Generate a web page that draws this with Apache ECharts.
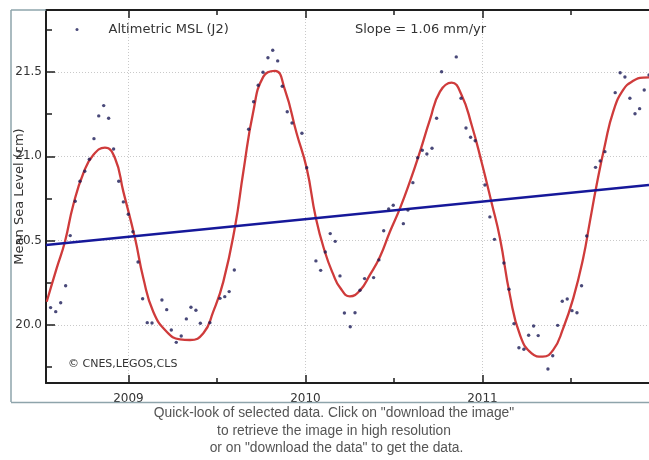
<!DOCTYPE html>
<html>
<head>
<meta charset="utf-8">
<script src="https://cdn.jsdelivr.net/npm/echarts@6/dist/echarts.min.js"></script>
<style>
html,body{margin:0;padding:0;background:#fff;}
#chart{width:649px;height:460px;}
</style>
</head>
<body>
<div id="chart"></div>
<script>
// ---- data ----
const dotYears = [2008.560,2008.589,2008.617,2008.645,2008.671,2008.699,2008.726,2008.753,2008.779,2008.805,2008.832,2008.860,2008.888,2008.916,2008.945,2008.971,2008.999,2009.025,2009.054,2009.080,2009.106,2009.133,2009.189,2009.216,2009.242,2009.270,2009.298,2009.327,2009.353,2009.381,2009.406,2009.460,2009.517,2009.544,2009.569,2009.598,2009.679,2009.707,2009.733,2009.760,2009.788,2009.815,2009.843,2009.869,2009.897,2009.924,2009.980,2010.007,2010.059,2010.086,2010.112,2010.140,2010.168,2010.195,2010.220,2010.253,2010.280,2010.308,2010.334,2010.385,2010.415,2010.442,2010.470,2010.496,2010.553,2010.579,2010.607,2010.634,2010.660,2010.686,2010.715,2010.741,2010.769,2010.852,2010.879,2010.907,2010.933,2010.959,2011.014,2011.042,2011.068,2011.121,2011.150,2011.178,2011.206,2011.234,2011.261,2011.289,2011.315,2011.370,2011.397,2011.425,2011.451,2011.479,2011.506,2011.534,2011.560,2011.589,2011.639,2011.665,2011.692,2011.750,2011.778,2011.805,2011.833,2011.862,2011.888,2011.914,2011.941];
const dotMSL = [20.103,20.079,20.132,20.233,20.530,20.734,20.852,20.912,20.983,21.105,21.240,21.301,21.226,21.044,20.852,20.730,20.657,20.553,20.374,20.156,20.014,20.012,20.148,20.091,19.970,19.897,19.935,20.036,20.105,20.087,20.010,20.014,20.158,20.168,20.198,20.326,21.161,21.324,21.422,21.499,21.585,21.629,21.566,21.416,21.265,21.198,21.137,20.933,20.380,20.324,20.433,20.542,20.496,20.291,20.071,19.990,20.073,20.206,20.275,20.281,20.386,20.559,20.688,20.710,20.601,20.682,20.844,20.992,21.036,21.014,21.048,21.226,21.502,21.590,21.345,21.168,21.113,21.093,20.830,20.641,20.508,20.368,20.212,20.008,19.865,19.856,19.939,19.994,19.937,19.739,19.818,19.998,20.141,20.154,20.085,20.073,20.233,20.528,20.935,20.973,21.028,21.378,21.496,21.471,21.345,21.253,21.283,21.394,21.483];

const fitYears = [2008.538,2008.594,2008.641,2008.688,2008.745,2008.801,2008.867,2008.924,2008.971,2009.037,2009.084,2009.140,2009.216,2009.291,2009.347,2009.423,2009.479,2009.536,2009.602,2009.649,2009.705,2009.762,2009.828,2009.884,2009.950,2010.007,2010.059,2010.110,2010.157,2010.195,2010.251,2010.308,2010.364,2010.421,2010.477,2010.534,2010.590,2010.647,2010.703,2010.760,2010.826,2010.882,2010.939,2010.995,2011.052,2011.099,2011.155,2011.212,2011.278,2011.340,2011.400,2011.456,2011.513,2011.569,2011.607,2011.645,2011.692,2011.739,2011.795,2011.852,2011.908,2011.941];
const fitValues = [20.138,20.336,20.494,20.712,20.900,21.008,21.052,20.989,20.791,20.514,20.277,20.079,19.960,19.915,19.911,19.951,20.079,20.257,20.583,20.909,21.265,21.473,21.507,21.394,21.137,20.929,20.633,20.433,20.300,20.222,20.170,20.205,20.297,20.405,20.553,20.692,20.850,21.028,21.216,21.384,21.437,21.364,21.186,20.967,20.724,20.514,20.178,19.941,19.832,19.812,19.852,19.980,20.158,20.396,20.613,20.830,21.068,21.265,21.394,21.448,21.467,21.468];

const trendYears = [2008.534, 2011.941];
const trendValues = [20.474, 20.830];

const xMajor = [2009, 2010, 2011];
const xMinor = [2009.5, 2010.5, 2011.5];
const yMajor = [20.0, 20.5, 21.0, 21.5];
const yMinor = [19.75, 20.25, 20.75, 21.25, 21.75];
const xRange = [2008.534, 2011.941];
const yRange = [19.656, 21.868];

const seriesName = 'Altimetric MSL (J2)';
const slopeText = 'Slope = 1.06 mm/yr';
const creditText = '\u00A9 CNES,LEGOS,CLS';
const yName = 'Mean Sea Level (cm)';
const captionLines = ['Quick-look of selected data. Click on "download the image"', 'to retrieve the image in high resolution', 'or on "download the data" to get the data.'];

// ---- chart ----
const zip = (a, b) => a.map((v, i) => [v, b[i]]);
const axisColor = '#1e1e1e';
const fontMain = 'DejaVu Sans';

function xAxisDef(pos, ticks, len, withLine, withLabel, withSplit) {
  return {
    type: 'value', position: pos, min: xRange[0], max: xRange[1],
    axisLine: { show: withLine, onZero: false, lineStyle: { color: axisColor, width: 2 } },
    axisTick: { show: true, inside: true, length: len, customValues: ticks, lineStyle: { color: axisColor, width: 1.5 } },
    axisLabel: { show: withLabel, customValues: ticks, margin: 10, color: '#333', fontFamily: fontMain, fontSize: 12,
                 formatter: v => String(Math.round(v)) },
    splitLine: { show: withSplit, lineStyle: { color: '#c9c9c9', type: [1, 2], width: 1 } }
  };
}
function yAxisDef(ticks, len, withLine, withLabel, withSplit, name) {
  return {
    type: 'value', position: 'left', min: yRange[0], max: yRange[1],
    name: name || '', nameLocation: 'middle', nameGap: 20, nameMoveOverlap: false,
    nameTextStyle: { color: '#333', fontFamily: fontMain, fontSize: 13 },
    axisLine: { show: withLine, onZero: false, lineStyle: { color: axisColor, width: 2 } },
    axisTick: { show: true, inside: true, length: len, customValues: ticks, lineStyle: { color: axisColor, width: 1.5 } },
    axisLabel: { show: withLabel, customValues: ticks, margin: 4, color: '#333', fontFamily: fontMain, fontSize: 12,
                 formatter: v => v.toFixed(1) },
    splitLine: { show: withSplit, lineStyle: { color: '#c9c9c9', type: [1, 2], width: 1 } }
  };
}

const chart = echarts.init(document.getElementById('chart'), null, { renderer: 'canvas' });
chart.setOption({
  animation: false,
  backgroundColor: '#ffffff',
  grid: { left: 46, top: 10, right: 0, bottom: 77, containLabel: false, outerBoundsMode: 'none' },
  xAxis: [
    xAxisDef('bottom', xMajor, 8, true, true, true),
    xAxisDef('bottom', xMinor, 5, false, false, false),
    xAxisDef('top', xMajor, 8, true, false, false),
    xAxisDef('top', xMinor, 5, false, false, false)
  ],
  yAxis: [
    yAxisDef(yMajor, 9, true, true, true, yName),
    yAxisDef(yMinor, 6, false, false, false)
  ],
  legend: {
    show: true, left: 75.5, top: 23, padding: 0, itemWidth: 3, itemHeight: 3, itemGap: 0,
    data: [{ name: seriesName, icon: 'circle' }],
    textStyle: { color: '#333', fontFamily: fontMain, fontSize: 13, padding: [0, 0, 0, 25] }
  },
  series: [
    {
      name: seriesName, type: 'scatter', xAxisIndex: 0, yAxisIndex: 0,
      data: zip(dotYears, dotMSL), symbol: 'circle', symbolSize: 3.4,
      itemStyle: { color: '#1c1c58' }, z: 5
    },
    {
      name: 'fit', type: 'line', xAxisIndex: 0, yAxisIndex: 0,
      data: zip(fitYears, fitValues), smooth: 0.5, showSymbol: false, symbol: 'none',
      lineStyle: { color: '#cf3b3b', width: 2.3 }, z: 3
    },
    {
      name: 'trend', type: 'line', xAxisIndex: 0, yAxisIndex: 0,
      data: zip(trendYears, trendValues), showSymbol: false, symbol: 'none',
      lineStyle: { color: '#16189a', width: 2.5 }, z: 4
    }
  ],
  graphic: [
    { type: 'text', left: 355, top: 23, z: 50,
      style: { text: slopeText, fill: '#333', font: '13px "DejaVu Sans"' } },
    { type: 'text', left: 68, top: 359, z: 50,
      style: { text: creditText, fill: '#333', font: '11px "DejaVu Sans"' } },
    { type: 'line', z: 100, shape: { x1: 11, y1: 10, x2: 11, y2: 402 }, style: { stroke: '#8ea4ab', lineWidth: 1.5 } },
    { type: 'line', z: 100, shape: { x1: 11, y1: 10, x2: 46, y2: 10 }, style: { stroke: '#8ea4ab', lineWidth: 1.5 } },
    { type: 'line', z: 100, shape: { x1: 11, y1: 402.5, x2: 649, y2: 402.5 }, style: { stroke: '#8ea4ab', lineWidth: 1.5 } },
    { type: 'text', z: 100, x: 334, y: 413, style: { text: captionLines[0], fill: '#555', font: '13.8px "Liberation Sans"', align: 'center', verticalAlign: 'middle' } },
    { type: 'text', z: 100, x: 334, y: 431, style: { text: captionLines[1], fill: '#555', font: '13.8px "Liberation Sans"', align: 'center', verticalAlign: 'middle' } },
    { type: 'text', z: 100, x: 336.5, y: 448.5, style: { text: captionLines[2], fill: '#555', font: '13.8px "Liberation Sans"', align: 'center', verticalAlign: 'middle' } }
  ]
});
</script>
</body>
</html>
